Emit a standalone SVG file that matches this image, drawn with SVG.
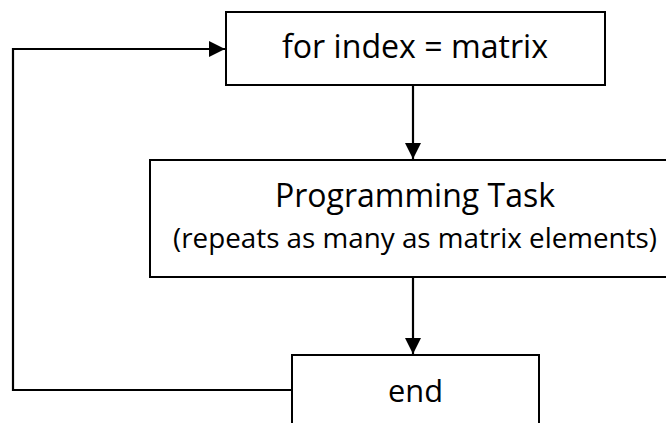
<svg xmlns="http://www.w3.org/2000/svg" width="666" height="423" viewBox="0 0 666 423">
<style>
.box{fill:#fff;stroke:#000;stroke-width:2}
.line{fill:none;stroke:#000;stroke-width:2.2}
.t{font-family:"Open Sans","Noto Sans",sans-serif;fill:#000}
</style>
<defs>
<marker id="ah" viewBox="0 0 16 16" refX="16" refY="8" markerWidth="16" markerHeight="16" markerUnits="userSpaceOnUse" orient="auto">
<path d="M0,0 L16,8 L0,16 Z" fill="#000"/>
</marker>
</defs>
<rect width="666" height="423" fill="#fff"/>
<g id="node-for">
<rect class="box" x="226" y="12" width="379" height="73"/>
<text class="t" x="282" y="58" font-size="32" textLength="266" lengthAdjust="spacingAndGlyphs">for index = matrix</text>
</g>
<g id="node-task">
<rect class="box" x="150" y="160" width="530" height="117"/>
<text class="t" x="275" y="207" font-size="32" textLength="280" lengthAdjust="spacingAndGlyphs">Programming Task</text>
<text class="t" x="173" y="248" font-size="27" textLength="484" lengthAdjust="spacingAndGlyphs">(repeats as many as matrix elements)</text>
</g>
<g id="node-end">
<rect class="box" x="292" y="355" width="247" height="90"/>
<text class="t" x="388" y="402" font-size="31" textLength="55" lengthAdjust="spacingAndGlyphs">end</text>
</g>
<g id="connectors">
<path class="line" d="M413,85 L413,159" marker-end="url(#ah)"/>
<path class="line" d="M413,277 L413,354" marker-end="url(#ah)"/>
<path class="line" d="M292,390 L13,390 L13,49 L225,49" marker-end="url(#ah)"/>
</g>
</svg>
